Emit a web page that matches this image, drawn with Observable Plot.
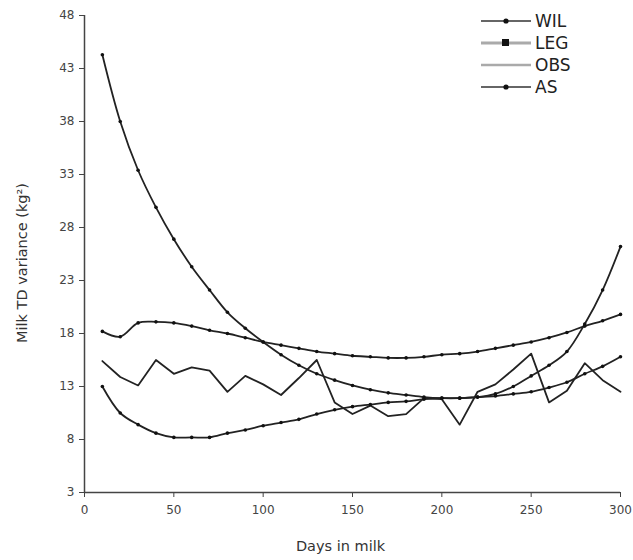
<!DOCTYPE html>
<html>
<head>
<meta charset="utf-8">
<script src="https://cdn.jsdelivr.net/npm/d3@7"></script>
<script src="https://cdn.jsdelivr.net/npm/@observablehq/plot@0.6"></script>
<style>
  html, body { margin: 0; padding: 0; background: #fff; }
  #wrap { position: relative; width: 633px; height: 560px; }
  #legend { position: absolute; left: 481px; top: 10px; font-family: "DejaVu Sans", sans-serif; font-size: 17px; color: #222; line-height: 22px; }
  #legend .row { display: flex; align-items: center; height: 22px; }
  #legend svg { margin-right: 4px; }
</style>
</head>
<body>
<div id="wrap">
  <div id="chart"></div>
  <div id="legend"></div>
</div>
<script>
const days = [10,20,30,40,50,60,70,80,90,100,110,120,130,140,150,160,170,180,190,200,210,220,230,240,250,260,270,280,290,300];
const WIL = [44.3,38.0,33.4,29.9,26.9,24.3,22.1,20.0,18.5,17.2,16.0,15.0,14.2,13.6,13.1,12.7,12.4,12.2,12.0,11.9,11.9,12.0,12.3,13.0,14.0,15.0,16.3,18.9,22.1,26.2];
const LEG = [18.2,17.7,19.0,19.1,19.0,18.7,18.3,18.0,17.6,17.2,16.9,16.6,16.3,16.1,15.9,15.8,15.7,15.7,15.8,16.0,16.1,16.3,16.6,16.9,17.2,17.6,18.1,18.7,19.2,19.8];
const OBS = [15.4,13.9,13.1,15.5,14.2,14.8,14.5,12.5,14.0,13.2,12.2,13.8,15.5,11.5,10.4,11.2,10.2,10.4,11.9,11.8,9.4,12.5,13.2,14.6,16.1,11.5,12.6,15.2,13.6,12.5];
const AS  = [13.0,10.5,9.4,8.6,8.2,8.2,8.2,8.6,8.9,9.3,9.6,9.9,10.4,10.8,11.1,11.3,11.5,11.6,11.8,11.9,11.9,12.0,12.1,12.3,12.5,12.9,13.4,14.2,14.9,15.8];
const xTicks = [0,50,100,150,200,250,300];
const yTicks = [3,8,13,18,23,28,33,38,43,48];
const seriesNames = ["WIL","LEG","OBS","AS"];
const seriesVals = {WIL, LEG, OBS, AS};

const rows = [];
for (const s of seriesNames) days.forEach((d, i) => rows.push({series: s, day: d, v: seriesVals[s][i]}));
const smooth = rows.filter(r => r.series !== "OBS");
const obs = rows.filter(r => r.series === "OBS");

const chart = Plot.plot({
  width: 633,
  height: 560,
  marginLeft: 84,
  marginRight: 13,
  marginTop: 15,
  marginBottom: 68,
  style: {fontFamily: "DejaVu Sans, sans-serif", fontSize: "12px", color: "#333", background: "#fff"},
  x: {domain: [0, 300], ticks: xTicks, tickSize: 5, tickPadding: 8, label: null},
  y: {domain: [3, 48], ticks: yTicks, tickSize: 5, tickPadding: 5, label: null},
  marks: [
    Plot.ruleX([0], {stroke: "#444", strokeWidth: 1.5}),
    Plot.ruleY([3], {stroke: "#444", strokeWidth: 1.5}),
    Plot.line(obs, {x: "day", y: "v", stroke: "#222", strokeWidth: 1.8}),
    Plot.line(smooth, {x: "day", y: "v", z: "series", stroke: "#222", strokeWidth: 1.8, curve: "catmull-rom"}),
    Plot.dot(smooth, {x: "day", y: "v", r: 1.8, fill: "#111", stroke: "none"}),
    Plot.axisX({ticks: xTicks, tickSize: 5, tickPadding: 8, stroke: "#444", fill: "#444", label: null, fontSize: 12}),
    Plot.axisY({ticks: yTicks, tickSize: 5, tickPadding: 5, stroke: "#444", fill: "#444", label: null, fontSize: 12}),
    Plot.text(["Days in milk"], {frameAnchor: "bottom", dx: -12, dy: 58, fontSize: 14.5, fill: "#333"}),
    Plot.text(["Milk TD variance (kg²)"], {frameAnchor: "left", textAnchor: "middle", dx: -62, dy: 9, rotate: -90, fontSize: 14.5, fill: "#333"})
  ]
});
document.getElementById("chart").appendChild(chart);

// legend
const legend = document.getElementById("legend");
const styles = {
  WIL: {stroke: "#333", w: 1.5, marker: "dot"},
  LEG: {stroke: "#aaa", w: 3, marker: "square"},
  OBS: {stroke: "#aaa", w: 2.5, marker: null},
  AS:  {stroke: "#333", w: 1.5, marker: "dot"}
};
for (const s of seriesNames) {
  const st = styles[s];
  const row = document.createElement("div");
  row.className = "row";
  let m = "";
  if (st.marker === "dot") m = `<circle cx="25" cy="11" r="2.6" fill="#111"/>`;
  if (st.marker === "square") m = `<rect x="21" y="7" width="7" height="7" fill="#111"/>`;
  row.innerHTML = `<svg width="50" height="22"><line x1="0" x2="50" y1="11" y2="11" stroke="${st.stroke}" stroke-width="${st.w}"/>${m}</svg><span>${s}</span>`;
  legend.appendChild(row);
}
</script>
</body>
</html>
